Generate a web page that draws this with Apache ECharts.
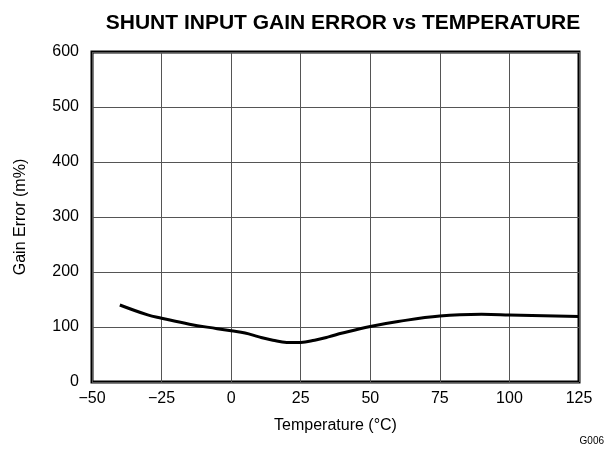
<!DOCTYPE html>
<html><head><meta charset="utf-8">
<script src="https://cdn.jsdelivr.net/npm/echarts@6/dist/echarts.min.js"></script>
<style>html,body{margin:0;padding:0;background:#fff}#c{width:609px;height:458px}</style>
</head><body><div id="c"></div>
<script>
const temperature = [-40, -30, -25, -15, -5, 0, 5, 10, 15, 20, 25, 30, 35, 40, 50, 60, 75, 90, 100, 125];
const gainError = [140, 122, 116, 105, 97, 93, 89, 82, 76, 72, 72, 76, 82, 89, 101, 110, 120, 123, 122, 119];
const xTicks = [-50, -25, 0, 25, 50, 75, 100, 125];
const yTicks = [0, 100, 200, 300, 400, 500, 600];

const chart = echarts.init(document.getElementById('c'), null, {renderer: 'canvas'});
const font = 'Liberation Sans, Arial, sans-serif';
chart.setOption({
  animation: false,
  title: {
    text: 'SHUNT INPUT GAIN ERROR vs TEMPERATURE',
    left: 338, top: 8, textAlign: 'center',
    textStyle: {fontFamily: font, fontSize: 21, fontWeight: 'bold', color: '#000'}
  },
  graphic: [{
    type: 'text', right: 5, top: 436,
    style: {text: 'G006', font: '10px Liberation Sans, Arial, sans-serif', fill: '#000'}
  }],
  grid: {left: 92, right: 30, top: 52, bottom: 76, show: true, borderColor: '#000', borderWidth: 3},
  xAxis: {
    type: 'value', min: -50, max: 125, interval: 25,
    name: 'Temperature (°C)', nameLocation: 'middle', nameGap: 36,
    nameTextStyle: {fontFamily: font, fontSize: 16, color: '#000'},
    axisLine: {show: false}, axisTick: {show: false},
    axisLabel: {fontFamily: font, fontSize: 16, color: '#000', margin: 9,
      formatter: v => (v < 0 ? '\u2212' + Math.abs(v) : String(v))},
    splitLine: {show: true, lineStyle: {color: '#555', width: 1}}
  },
  yAxis: {
    type: 'value', min: 0, max: 600, interval: 100,
    name: 'Gain Error (m%)', nameLocation: 'middle', nameGap: 63,
    nameTextStyle: {fontFamily: font, fontSize: 16, color: '#000'},
    axisLine: {show: false}, axisTick: {show: false},
    axisLabel: {fontFamily: font, fontSize: 16, color: '#000', margin: 13},
    splitLine: {show: true, lineStyle: {color: '#555', width: 1}}
  },
  series: [{
    type: 'line', data: temperature.map((t, i) => [t, gainError[i]]),
    smooth: 0.4, showSymbol: false,
    lineStyle: {color: '#000', width: 3}
  }]
});
</script></body></html>
